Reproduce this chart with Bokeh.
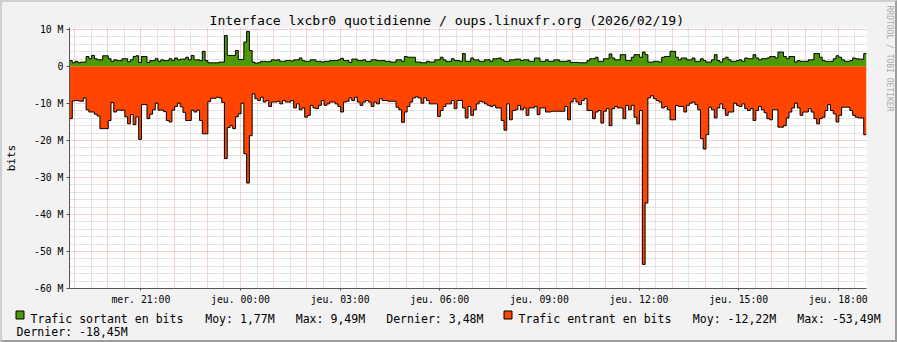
import numpy as np
from bokeh.plotting import figure
from bokeh.layouts import column, row
from bokeh.models import Range1d, FixedTicker, Title
from bokeh.core.properties import value
from bokeh.embed import file_html
from bokeh.resources import INLINE

title_text = "Interface lxcbr0 quotidienne / oups.linuxfr.org (2026/02/19)"
start_hour = 18.85          # mer. 18:51, hours since mer. 00:00
step_hours = 5 / 60.0       # 5 minute samples

# outgoing traffic, Mbit/s
sortant = [
    1.6, 1.0, 1.4, 1.0, 1.2, 1.2, 2.7, 2.1, 3.0, 2.1,
    1.8, 1.8, 2.9, 2.9, 2.1, 1.4, 1.8, 1.6, 1.6, 2.1,
    2.1, 1.3, 1.8, 2.7, 2.9, 1.1, 2.7, 2.7, 1.1, 1.6,
    1.6, 2.1, 1.4, 1.8, 1.6, 1.6, 2.1, 1.6, 2.3, 1.8,
    2.0, 2.0, 2.5, 1.8, 3.0, 1.8, 1.8, 1.6, 4.1, 1.6,
    1.0, 1.0, 1.0, 1.0, 1.2, 1.2, 8.4, 3.0, 3.0, 3.0,
    4.3, 1.9, 1.9, 6.6, 9.49, 4.3, 1.2, 0.9, 1.0, 1.4,
    1.4, 1.3, 1.4, 1.8, 1.7, 1.8, 1.4, 1.4, 1.6, 1.6,
    1.5, 1.8, 1.8, 2.3, 1.6, 1.4, 1.4, 1.8, 1.8, 1.4,
    1.4, 1.2, 1.4, 1.4, 1.6, 1.6, 1.6, 1.8, 2.2, 1.6,
    1.6, 1.1, 2.0, 2.0, 1.6, 1.6, 1.8, 1.4, 1.4, 1.8,
    1.8, 1.6, 1.6, 1.6, 1.4, 1.4, 1.2, 1.2, 1.8, 1.8,
    1.4, 2.7, 2.5, 2.5, 2.5, 1.2, 1.2, 1.0, 1.0, 1.4,
    1.2, 1.2, 1.8, 1.8, 2.5, 1.8, 1.4, 1.4, 2.1, 1.6,
    1.6, 1.4, 3.5, 1.4, 1.4, 2.3, 1.8, 1.8, 1.4, 1.4,
    1.8, 1.8, 1.4, 2.1, 2.1, 2.3, 1.8, 1.4, 1.4, 1.8,
    1.8, 2.0, 2.0, 1.6, 1.8, 1.8, 1.4, 1.4, 2.3, 2.3,
    1.4, 1.4, 1.8, 1.4, 1.4, 1.8, 1.8, 1.4, 1.4, 1.4,
    1.6, 1.1, 1.1, 1.1, 1.0, 1.0, 1.0, 1.6, 2.1, 2.1,
    2.5, 1.4, 1.4, 2.1, 2.1, 3.4, 2.3, 1.8, 1.8, 3.2,
    3.2, 1.6, 1.6, 2.5, 3.2, 3.2, 2.5, 3.9, 3.2, 1.2,
    1.2, 1.4, 1.4, 1.2, 2.5, 2.7, 2.7, 4.1, 4.1, 2.5,
    1.8, 2.3, 2.3, 1.8, 1.8, 2.3, 1.4, 1.4, 2.1, 1.6,
    1.2, 1.2, 1.8, 3.2, 1.6, 1.2, 2.1, 2.5, 1.8, 1.4,
    1.4, 1.6, 1.8, 1.4, 2.3, 2.1, 2.1, 3.2, 2.3, 1.8,
    2.1, 2.1, 2.3, 2.7, 2.7, 2.3, 3.9, 3.9, 2.7, 2.1,
    2.7, 2.7, 1.2, 1.6, 1.4, 1.4, 1.4, 1.8, 1.8, 3.5,
    3.5, 2.5, 1.6, 1.4, 1.4, 1.4, 2.1, 2.9, 2.5, 1.8,
    1.4, 1.4, 1.6, 2.3, 2.1, 2.0, 2.0, 3.48,
]

# incoming traffic (drawn negative), Mbit/s
entrant = [
    -14.1, -9.3, -9.2, -9.3, -9.4, -8.5, -11.7, -12.3, -12.3, -12.9,
    -13.4, -16.8, -16.8, -16.8, -14.6, -9.7, -12.3, -11.8, -11.8, -11.8,
    -13.6, -15.5, -13.0, -15.7, -13.6, -19.7, -10.3, -10.3, -14.1, -12.9,
    -11.7, -9.9, -11.8, -11.8, -12.2, -14.6, -15.0, -11.8, -10.8, -9.9,
    -10.9, -12.4, -14.6, -14.6, -11.8, -12.3, -11.8, -14.6, -18.2, -18.2,
    -9.5, -8.6, -8.6, -8.3, -8.5, -9.7, -24.9, -16.5, -16.0, -16.8,
    -13.6, -12.8, -9.9, -23.6, -31.5, -18.7, -7.4, -8.7, -9.2, -8.3,
    -9.6, -9.2, -10.8, -9.6, -9.6, -9.4, -10.1, -9.2, -9.6, -9.6,
    -9.2, -11.2, -10.1, -11.7, -11.2, -13.7, -13.2, -10.5, -11.2, -11.4,
    -10.5, -9.2, -10.5, -10.1, -9.6, -9.6, -10.1, -10.8, -12.3, -9.6,
    -9.4, -8.5, -9.2, -8.3, -9.6, -10.5, -9.6, -9.2, -9.6, -10.8,
    -9.6, -10.1, -8.7, -9.2, -9.2, -9.4, -9.4, -9.4, -11.0, -11.7,
    -15.1, -12.3, -10.8, -9.6, -8.5, -8.2, -8.5, -9.9, -8.5, -9.2,
    -10.1, -10.1, -10.1, -13.5, -11.9, -10.8, -10.1, -10.1, -9.2, -11.4,
    -9.2, -9.2, -11.2, -13.9, -10.8, -13.2, -11.7, -10.1, -9.4, -9.6,
    -10.1, -10.5, -10.8, -10.5, -11.2, -11.2, -14.6, -17.2, -10.1, -14.4,
    -11.9, -11.7, -10.5, -11.7, -11.2, -13.2, -11.2, -11.2, -10.8, -13.0,
    -11.2, -11.2, -12.3, -12.3, -12.1, -12.1, -12.1, -12.1, -12.1, -10.8,
    -14.4, -9.6, -8.7, -9.6, -10.3, -9.2, -8.7, -11.9, -11.9, -14.1,
    -12.3, -11.9, -15.3, -12.1, -11.4, -16.0, -11.4, -10.8, -11.2, -11.2,
    -14.1, -10.5, -11.7, -10.5, -13.7, -15.5, -11.9, -53.49, -36.9, -8.5,
    -7.9, -8.7, -9.2, -9.6, -11.2, -10.8, -11.7, -14.4, -14.4, -10.5,
    -10.8, -10.8, -12.3, -10.5, -9.9, -9.6, -10.3, -11.7, -19.5, -22.3,
    -18.4, -11.0, -11.7, -13.9, -11.2, -10.1, -11.4, -13.2, -12.3, -12.3,
    -9.9, -10.5, -10.8, -10.1, -11.4, -11.9, -11.4, -14.6, -11.9, -10.8,
    -11.7, -12.5, -14.1, -14.4, -11.7, -11.7, -16.4, -16.4, -16.0, -13.9,
    -12.3, -11.2, -9.9, -11.2, -13.2, -12.3, -12.3, -11.4, -12.3, -14.1,
    -15.5, -14.1, -13.7, -11.9, -10.3, -11.9, -12.8, -15.0, -13.2, -11.0,
    -11.0, -11.0, -11.9, -13.2, -13.7, -13.9, -13.9, -18.45,
]

x_tick_pos = [21, 24, 27, 30, 33, 36, 39, 42]
x_tick_labels = ["mer. 21:00", "jeu. 00:00", "jeu. 03:00", "jeu. 06:00",
                 "jeu. 09:00", "jeu. 12:00", "jeu. 15:00", "jeu. 18:00"]
y_tick_pos = [10, 0, -10, -20, -30, -40, -50, -60]
y_tick_labels = ["10 M", "0", "-10 M", "-20 M", "-30 M", "-40 M", "-50 M", "-60 M"]

unit_label = "bits"
# legend pieces: text and page position (x of start, baseline y)
legend_texts = ["Trafic sortant en bits", "Moy: 1,77M", "Max: 9,49M", "Dernier: 3,48M",
                "Trafic entrant en bits", "Moy: -12,22M", "Max: -53,49M",
                "Dernier: -18,45M"]
legend_x = [30, 204.7, 295.2, 385.7, 518, 692.3, 796.7, 16]
legend_y = [318, 318, 318, 318, 318, 318, 318, 331.5]
swatch_colors = ["#4E9A06", "#FF4500"]
swatch_x = [15.5, 503.5]
watermark = "RRDTOOL / TOBI OETIKER"

GREEN, RED = swatch_colors
BG = "#f2f2f2"
AXIS = "#555555"
FONT = "DejaVu Sans Mono"

n = len(sortant)
end_hour = start_hour + n * step_hours
x_edges = start_hour + step_hours * np.arange(n + 1)
y_out = sortant + [sortant[-1]]
y_in = entrant + [entrant[-1]]

# page = canvas + 2 (2px CSS frame around everything)
# ---------------- main chart (page x 2..895, y 2..307) ----------------
MAIN_W, MAIN_H = 893, 305
y_top = 10.54
px_per_M = 261 / (y_top + 60)
px_per_hour = 800 / 24.0
p = figure(width=MAIN_W, height=MAIN_H, output_backend="svg", toolbar_location=None,
           x_range=Range1d(start_hour, end_hour), y_range=Range1d(-60, y_top),
           min_border_left=64, min_border_right=MAIN_W - 64 - 800,
           min_border_top=25, min_border_bottom=MAIN_H - 25 - 261,
           background_fill_color="white", border_fill_color=BG,
           outline_line_color=None)

zeros = [0] * (n + 1)
p.varea_step(x=x_edges, y1=zeros, y2=y_out, step_mode="after", fill_color=GREEN)
p.varea_step(x=x_edges, y1=zeros, y2=y_in, step_mode="after", fill_color=RED)
p.step(x_edges, y_out, mode="after", line_color="black", line_width=1)
p.step(x_edges, y_in, mode="after", line_color="black", line_width=1)

hour_lines = list(range(19, 43))
half_hour_lines = [h + 0.5 for h in range(18, 43) if start_hour < h + 0.5 < end_hour]
y_major_lines = list(range(-60, 11, 10))
y_minor_lines = [v for v in range(-58, 11, 2) if v % 10 != 0]
p.xgrid.ticker = FixedTicker(ticks=hour_lines, minor_ticks=half_hour_lines)
p.ygrid.ticker = FixedTicker(ticks=y_major_lines, minor_ticks=y_minor_lines)
for g in (p.xgrid, p.ygrid):
    g.grid_line_color = "#eda3a3"
    g.grid_line_dash = "1 1"
    g.minor_grid_line_color = "#c9c9c9"
    g.minor_grid_line_dash = "1 1"

p.xaxis.ticker = FixedTicker(ticks=x_tick_pos, minor_ticks=[])
p.xaxis.major_label_overrides = dict(zip(x_tick_pos, x_tick_labels))
p.xaxis.bounds = (start_hour, end_hour + 6 / px_per_hour)
p.yaxis.ticker = FixedTicker(ticks=y_tick_pos, minor_ticks=[])
p.yaxis.major_label_overrides = dict(zip(y_tick_pos, y_tick_labels))
p.yaxis.bounds = (-60, y_top + 5 / px_per_M)
for ax in (p.xaxis, p.yaxis):
    ax.axis_line_color = AXIS
    ax.major_tick_line_color = AXIS
    ax.major_tick_in = 0
    ax.minor_tick_line_color = None
    ax.major_label_text_font = FONT
    ax.major_label_text_font_size = "9.8px"
    ax.major_label_text_color = "black"
p.xaxis.major_tick_out = 2
p.xaxis.major_label_standoff = 3
p.yaxis.major_tick_out = 3
p.yaxis.major_label_standoff = 3
p.yaxis.axis_label = unit_label
p.yaxis.axis_label_text_font = FONT
p.yaxis.axis_label_text_font_size = "11px"
p.yaxis.axis_label_text_font_style = "normal"
p.yaxis.axis_label_text_color = "black"
p.yaxis.axis_label_standoff = 13

p.title.text = title_text
p.title.align = "left"
p.title.offset = 140
p.title.standoff = 0
p.title.text_font = FONT
p.title.text_font_size = "13.15px"
p.title.text_font_style = "normal"
p.title.text_color = "black"

# right margin: a blank spacer slot, then the vertical watermark
p.add_layout(Title(text=" ", standoff=7, text_font=FONT, text_font_size="8px",
                   text_font_style="normal", text_color=BG), "right")
p.add_layout(Title(text=watermark, align="left", offset=-22, standoff=0,
                   text_font=FONT, text_font_size="8px", text_font_style="normal",
                   text_color="#aaaaaa"), "right")

def bare(fig):
    fig.xaxis.visible = False
    fig.yaxis.visible = False
    fig.xgrid.visible = False
    fig.ygrid.visible = False
    return fig

# ---------------- legend strip (page y 307..340) ----------------
LEG_H = 338 - MAIN_H
LX0, LY0 = 2, 2 + MAIN_H
leg = bare(figure(width=893, height=LEG_H, output_backend="svg", toolbar_location=None,
                  x_range=Range1d(0, 893), y_range=Range1d(LEG_H, 0),
                  min_border=0, background_fill_color=BG, border_fill_color=BG,
                  outline_line_color=None))
leg.quad(left=[x - LX0 for x in swatch_x], right=[x + 8 - LX0 for x in swatch_x],
         top=[310.5 - LY0] * 2, bottom=[318.5 - LY0] * 2,
         fill_color=swatch_colors, line_color="black", line_width=1)
leg.text(x=[x - LX0 for x in legend_x], y=[y - LY0 for y in legend_y],
         text=legend_texts,
         text_font=value(FONT), text_font_size="11.55px", text_color="black",
         text_align="left", text_baseline="alphabetic")

layout = column(row(p), leg)
layout.styles = {"border-style": "solid", "border-width": "2px",
                 "border-color": "#cfcfcf #9e9e9e #9e9e9e #cfcfcf",
                 "background-color": BG}

open("out.html", "w").write(file_html(layout, INLINE))
